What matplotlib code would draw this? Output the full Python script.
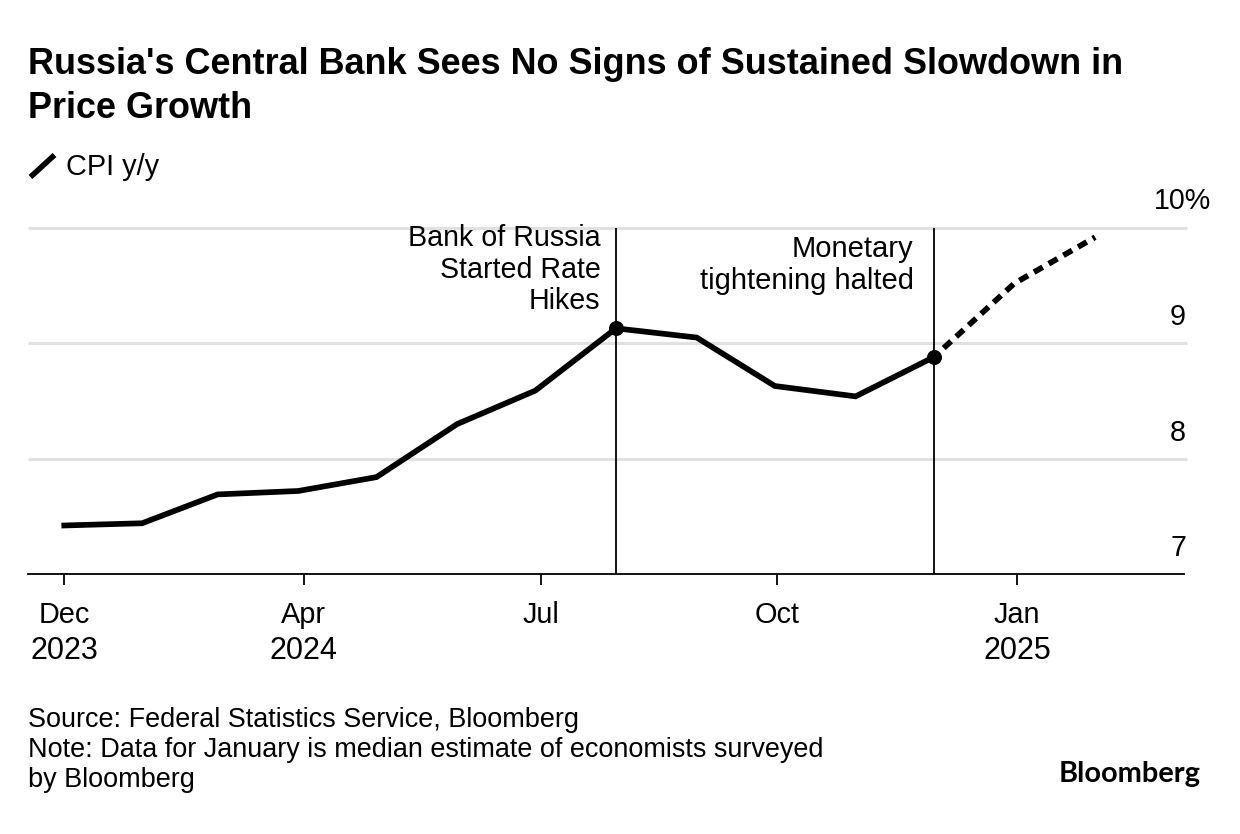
import matplotlib
matplotlib.use("Agg")
import matplotlib.pyplot as plt
import matplotlib.dates as mdates
from matplotlib.lines import Line2D
import pandas as pd

plt.rcParams['font.family'] = ['Liberation Sans', 'DejaVu Sans']

W, H = 1240, 834
dates_solid = pd.to_datetime(["2023-12-31", "2024-01-31", "2024-02-29", "2024-03-31", "2024-04-30", "2024-05-31",
                              "2024-06-30", "2024-07-31", "2024-08-31", "2024-09-30", "2024-10-31", "2024-11-30"])
cpi_solid = [7.42, 7.44, 7.69, 7.72, 7.84, 8.30, 8.59, 9.13, 9.05, 8.63, 8.54, 8.88]
dates_dash = pd.to_datetime(["2024-11-30", "2024-12-31", "2025-01-31"])
cpi_dash = [8.88, 9.52, 9.92]
event_dates = pd.to_datetime(["2024-07-31", "2024-11-30"])
event_values = [9.13, 8.88]
event_labels = ["Bank of Russia\nStarted Rate\nHikes", "Monetary\ntightening halted"]
tick_dates = pd.to_datetime(["2024-01-01", "2024-04-02", "2024-07-02", "2024-10-01", "2025-01-01"])
tick_labels = ["Dec\n2023", "Apr\n2024", "Jul", "Oct", "Jan\n2025"]
y_ticks = [7, 8, 9, 10]
y_labels = ["7", "8", "9", "10%"]

fig = plt.figure(figsize=(W/100, H/100), dpi=100, facecolor='white')
L, R, T, B = 28, 1184, 228, 574
ax = fig.add_axes([L/W, 1-B/H, (R-L)/W, (B-T)/H])
x0 = mdates.date2num(pd.Timestamp("2024-01-01"))
ppd = (1017-64)/366
xl = x0 + (L-64)/ppd
xr = x0 + (R-64)/ppd
ax.set_xlim(xl, xr)
ax.set_ylim(7, 10)
for s in ['top', 'left', 'right']:
    ax.spines[s].set_visible(False)
ax.spines['bottom'].set_linewidth(1.3)
ax.spines['bottom'].set_color('black')
ax.patch.set_alpha(0)

for v in y_ticks[1:]:
    ax.plot([xl, x0 + (1187-64)/ppd], [v, v], color='#e1e1e1', lw=2.2, zorder=1, clip_on=False,
            solid_capstyle='butt')

for d in event_dates:
    ax.axvline(d, color='black', lw=1.3, zorder=2)

ax.plot(dates_solid, cpi_solid, color='black', lw=4.1, solid_joinstyle='miter', solid_capstyle='butt', zorder=3)
ax.plot(dates_dash, cpi_dash, color='black', lw=4.1, linestyle=(0.58, (1.76, 1.21)), dash_capstyle='butt', zorder=3)
ax.plot(event_dates, event_values, 'o', color='black', ms=10.8, zorder=4, mec='none')

ax.set_xticks(mdates.date2num(tick_dates))
ax.set_xticklabels([])
ax.tick_params(axis='x', length=8, width=1.3, color='black')
ax.set_yticks([])

def px(x, y, s, **kw):
    return fig.text(x/W, 1-y/H, s, va='baseline', **kw)

for d, lab in zip(tick_dates, tick_labels):
    xp = 64 + (mdates.date2num(d) - x0)*ppd
    lines = lab.split("\n")
    px(xp, 623, lines[0], ha='center', fontsize=20.8)
    if len(lines) > 1:
        px(xp, 659, lines[1], ha='center', fontsize=22)

for v, lab, yb in zip(y_ticks, y_labels, [556, 441, 325, 209]):
    px(1211 if lab == "10%" else 1186, yb, lab, ha='right', fontsize=20.6)

for line, yb in zip(event_labels[0].split("\n"), [246, 278, 309]):
    px(600.5, yb, line, ha='right', fontsize=20.6)
for line, yb in zip(event_labels[1].split("\n"), [257, 289]):
    px(913.5, yb, line, ha='right', fontsize=21)

TS = 25.96
px(28, 74, "Russia's Central Bank Sees No Signs of Sustained Slowdown in", fontsize=TS, fontweight='bold')
px(28, 118, "Price Growth", fontsize=TS, fontweight='bold')

fig.add_artist(Line2D([30.5/W, 54.5/W], [1-177/H, 1-155/H], color='black', lw=4.0, solid_capstyle='butt'))
px(66, 175, "CPI y/y", fontsize=20.8)

px(28, 727, "Source: Federal Statistics Service, Bloomberg", fontsize=19.46)
px(28, 757, "Note: Data for January is median estimate of economists surveyed", fontsize=19.46)
px(28, 787, "by Bloomberg", fontsize=19.46)
px(1201, 782, "Bloomberg", fontsize=20.9, fontweight='bold', ha='right', family=['Lato', 'DejaVu Sans'])

fig.savefig('out.png', dpi=100, facecolor='white')
